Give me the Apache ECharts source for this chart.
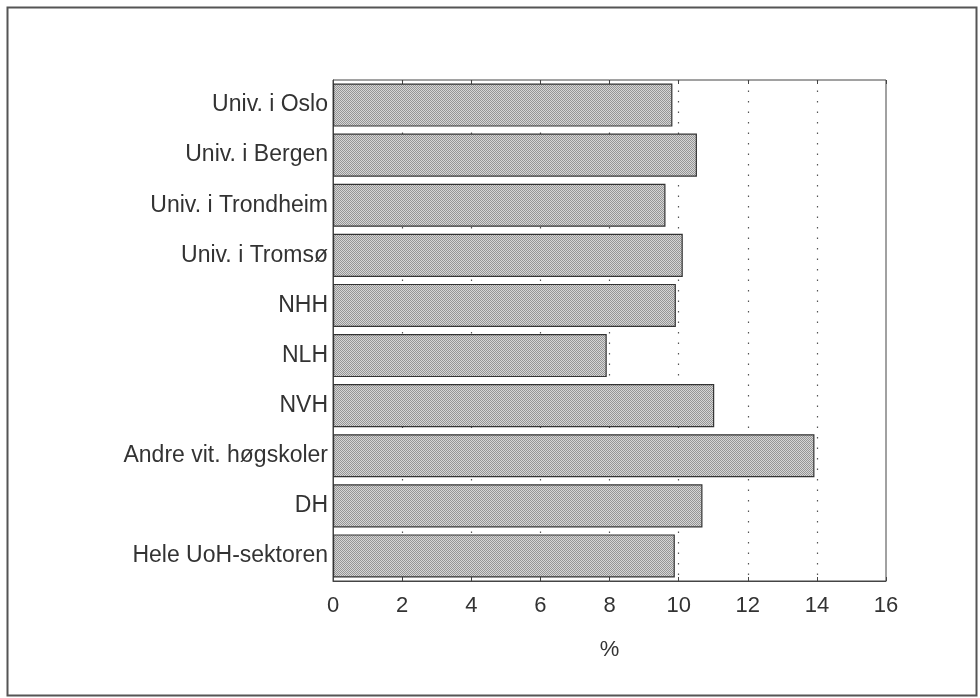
<!DOCTYPE html>
<html>
<head>
<meta charset="utf-8">
<script src="https://cdn.jsdelivr.net/npm/echarts@6/dist/echarts.min.js"></script>
<style>
  html, body { margin: 0; padding: 0; background: #fff; }
  #chart { width: 980px; height: 698px; }
</style>
</head>
<body>
<div id="chart"></div>
<script>
const categories = [
  'Univ. i Oslo', 'Univ. i Bergen', 'Univ. i Trondheim', 'Univ. i Tromsø',
  'NHH', 'NLH', 'NVH', 'Andre vit. høgskoler', 'DH', 'Hele UoH-sektoren'
];
const values = [9.82, 10.53, 9.62, 10.12, 9.92, 7.92, 11.03, 13.93, 10.69, 9.89];
const xTicks = [0, 2, 4, 6, 8, 10, 12, 14, 16];

// stippled grey fill like the printed original
const pat = document.createElement('canvas');
pat.width = 2; pat.height = 2;
const pctx = pat.getContext('2d');
pctx.fillStyle = '#d6d6d6'; pctx.fillRect(0, 0, 2, 2);
pctx.fillStyle = '#959595'; pctx.fillRect(0, 0, 1, 1); pctx.fillRect(1, 1, 1, 1);

const chart = echarts.init(document.getElementById('chart'), null, { renderer: 'canvas' });
const font = '"Liberation Sans", Arial, sans-serif';

chart.setOption({
  animation: false,
  backgroundColor: '#fff',
  textStyle: { fontFamily: font },
  graphic: [{
    type: 'rect', left: 5, top: 5,
    shape: { width: 969, height: 688 },
    style: { fill: 'none', stroke: '#555', lineWidth: 2 },
    silent: true
  }],
  grid: {
    left: 333, right: 94, top: 80, bottom: 117,
    show: true, borderColor: '#444', borderWidth: 1, backgroundColor: 'transparent'
  },
  xAxis: [{
    type: 'value', min: xTicks[0], max: xTicks[xTicks.length - 1], interval: 2,
    position: 'bottom',
    name: '%', nameLocation: 'middle', nameGap: 58,
    nameTextStyle: { fontSize: 22, color: '#333', fontFamily: font },
    axisLine: { show: true, lineStyle: { color: '#444', width: 1 } },
    axisTick: { show: true, inside: true, length: 4, lineStyle: { color: '#444' } },
    axisLabel: { fontSize: 22, color: '#333', margin: 14, fontFamily: font },
    splitLine: {
      show: true, showMinLine: false, showMaxLine: false,
      lineStyle: { color: '#555', width: 1.2, type: [1.5, 9] }
    }
  }, {
    type: 'value', min: xTicks[0], max: xTicks[xTicks.length - 1], interval: 2,
    position: 'top',
    axisLine: { show: false },
    axisTick: { show: true, inside: true, length: 4, lineStyle: { color: '#444' } },
    axisLabel: { show: false },
    splitLine: { show: false }
  }],
  yAxis: {
    type: 'category', data: categories, inverse: true,
    axisLine: { show: true, lineStyle: { color: '#444', width: 1 } },
    axisTick: { show: false },
    axisLabel: { fontSize: 23, color: '#333', margin: 5, fontFamily: font }
  },
  series: [{
    type: 'bar', data: values, xAxisIndex: 0,
    barCategoryGap: '14%',
    itemStyle: { color: { image: pat, repeat: 'repeat' }, borderColor: '#333', borderWidth: 1.2 },
    z: 3
  }]
});
</script>
</body>
</html>
